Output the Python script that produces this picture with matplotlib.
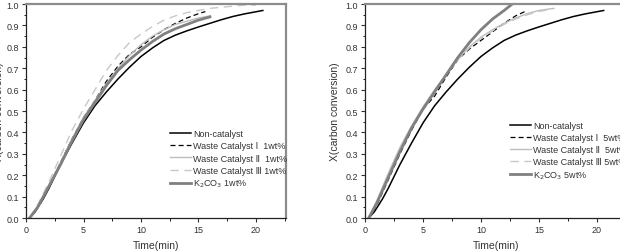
import matplotlib
matplotlib.use("Agg")
import matplotlib.pyplot as plt
from matplotlib.ticker import MultipleLocator

plt.rcParams['font.family'] = ['Liberation Sans', 'DejaVu Sans']

# ---- data ----
t_non = [0.3, 0.8, 1.5, 2, 3, 4, 5, 6, 7, 8, 9, 10, 11, 12, 13, 14, 15, 16, 17, 18, 19, 20, 20.6]
x_non = [0, 0.03, 0.09, 0.14, 0.25, 0.35, 0.445, 0.525, 0.59, 0.65, 0.705, 0.755, 0.795, 0.83,
         0.855, 0.875, 0.893, 0.91, 0.927, 0.942, 0.954, 0.964, 0.97]

# 1 wt%
t_w1_1 = [0.3, 1, 2, 3, 4, 5, 6, 7, 8, 9, 10, 11, 12, 13, 14, 15, 15.6]
x_w1_1 = [0, 0.05, 0.15, 0.26, 0.37, 0.47, 0.55, 0.64, 0.71, 0.765, 0.80, 0.845, 0.88, 0.91, 0.935, 0.955, 0.965]
t_w2_1 = [0.3, 1, 2, 3, 4, 5, 6, 7, 8, 9, 10, 11, 12, 13, 14, 15, 16]
x_w2_1 = [0, 0.05, 0.15, 0.26, 0.37, 0.47, 0.55, 0.63, 0.70, 0.76, 0.81, 0.85, 0.88, 0.905, 0.92, 0.935, 0.945]
t_w3_1 = [0.3, 1, 2, 3, 4, 5, 6, 7, 8, 9, 10, 11, 12, 13, 14, 15, 16, 17, 18, 19, 20]
x_w3_1 = [0, 0.06, 0.17, 0.29, 0.41, 0.51, 0.60, 0.69, 0.76, 0.82, 0.86, 0.895, 0.925, 0.945, 0.96,
          0.97, 0.98, 0.985, 0.99, 0.995, 0.995]
t_k_1 = [0.3, 1, 2, 3, 4, 5, 6, 7, 8, 9, 10, 11, 12, 13, 14, 15, 16]
x_k_1 = [0, 0.05, 0.15, 0.25, 0.36, 0.46, 0.54, 0.62, 0.69, 0.74, 0.785, 0.825, 0.86, 0.885, 0.905, 0.925, 0.94]

# 5 wt%
t_w1_5 = [0.3, 1, 2, 3, 4, 5, 6, 7, 8, 9, 10, 11, 12, 13, 14]
x_w1_5 = [0, 0.06, 0.18, 0.30, 0.41, 0.51, 0.57, 0.66, 0.74, 0.79, 0.83, 0.87, 0.91, 0.945, 0.97]
t_w2_5 = [0.3, 1, 2, 3, 4, 5, 6, 7, 8, 9, 10, 11, 12, 13, 14, 15, 16.3]
x_w2_5 = [0, 0.08, 0.21, 0.33, 0.43, 0.52, 0.60, 0.67, 0.74, 0.80, 0.845, 0.88, 0.91, 0.935, 0.955, 0.97, 0.98]
t_w3_5 = [0.3, 1, 2, 3, 4, 5, 6, 7, 8, 9, 10, 11, 12, 13, 14, 15, 16]
x_w3_5 = [0, 0.07, 0.20, 0.32, 0.42, 0.51, 0.59, 0.67, 0.74, 0.795, 0.84, 0.875, 0.905, 0.93, 0.95, 0.965, 0.975]
t_k_5 = [0.3, 1, 2, 3, 4, 5, 6, 7, 8, 9, 10, 11, 12, 12.7]
x_k_5 = [0, 0.07, 0.19, 0.31, 0.42, 0.51, 0.59, 0.67, 0.75, 0.82, 0.88, 0.93, 0.97, 1.0]

labels_1 = ['Non-catalyst', 'Waste Catalyst \u2160  1wt%', 'Waste Catalyst \u2161  1wt%',
            'Waste Catalyst \u2162 1wt%', r'K$_2$CO$_3$ 1wt%']
labels_5 = ['Non-catalyst', 'Waste Catalyst \u2160  5wt%', 'Waste Catalyst \u2161  5wt%',
            'Waste Catalyst \u2162 5wt%', r'K$_2$CO$_3$ 5wt%']

styles = [dict(color='black', lw=1.1, ls='-'),
          dict(color='black', lw=0.9, ls=(0, (4, 2.5))),
          dict(color='#bdbdbd', lw=1.0, ls='-'),
          dict(color='#c8c8c8', lw=1.0, ls=(0, (6, 4))),
          dict(color='#808080', lw=2.0, ls='-')]

fig = plt.figure(figsize=(6.2, 2.53), dpi=100)
ax1 = fig.add_axes([0.042, 0.134, 0.419, 0.846])
ax2 = fig.add_axes([0.589, 0.134, 0.422, 0.846])

series1 = [(t_non, x_non), (t_w1_1, x_w1_1), (t_w2_1, x_w2_1), (t_w3_1, x_w3_1), (t_k_1, x_k_1)]
series5 = [(t_non, x_non), (t_w1_5, x_w1_5), (t_w2_5, x_w2_5), (t_w3_5, x_w3_5), (t_k_5, x_k_5)]

for ax, series, labels, lx, ly in [(ax1, series1, labels_1, 0.555, 0.415),
                                   (ax2, series5, labels_5, 0.555, 0.455)]:
    for (t, x), lab, st in zip(series, labels, styles):
        ax.plot(t, x, label=lab, **st)
    ax.set_xlim(0, 22.6)
    ax.set_ylim(0, 1.0)
    ax.xaxis.set_major_locator(MultipleLocator(5))
    ax.xaxis.set_minor_locator(MultipleLocator(2.5))
    ax.yaxis.set_major_locator(MultipleLocator(0.1))
    ax.yaxis.set_minor_locator(MultipleLocator(0.05))
    ax.set_yticks([i / 10 for i in range(11)])
    ax.set_yticklabels([f'{i / 10:.1f}' for i in range(11)])
    ax.tick_params(axis='both', which='major', direction='out', length=3, width=0.8,
                   labelsize=6.5, colors='#333333', pad=2)
    ax.tick_params(axis='both', which='minor', direction='out', length=1.8, width=0.6)
    for s in ['left', 'bottom']:
        ax.spines[s].set_color('#222222')
        ax.spines[s].set_linewidth(0.9)
    for s in ['top', 'right']:
        ax.spines[s].set_color('#8c8c8c')
        ax.spines[s].set_linewidth(1.6)
    ax.set_xlabel('Time(min)', fontsize=7.5, color='#333333')
    ax.xaxis.set_label_coords(0.5, -0.1)
    ax.set_ylabel('X(carbon conversion)', fontsize=7.5, color='#333333')
    leg = ax.legend(loc='upper left', bbox_to_anchor=(lx, ly), frameon=False, fontsize=6.5,
                    handlelength=2.3, handletextpad=0.2, labelspacing=0.35, borderaxespad=0,
                    borderpad=0)
    for txt in leg.get_texts():
        txt.set_color('#333333')

ax1.yaxis.set_label_coords(-0.085, 0.5)
ax2.yaxis.set_label_coords(-0.098, 0.5)

fig.savefig('out.png', dpi=100)
